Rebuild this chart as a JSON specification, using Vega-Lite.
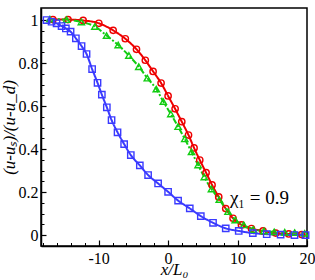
{
  "$schema": "https://vega.github.io/schema/vega-lite/v6.json",
  "width": 266,
  "height": 238,
  "autosize": {"type": "none"},
  "padding": {"left": 41, "top": 8, "right": 8, "bottom": 34},
  "background": "white",
  "config": {
    "view": {"stroke": "black", "strokeWidth": 1.5},
    "font": "Liberation Serif",
    "axis": {"grid": false, "domainColor": "black", "domainWidth": 1.5, "tickColor": "black", "tickWidth": 1.2, "labelColor": "black", "titleColor": "black", "labelFont": "Liberation Serif", "titleFont": "Liberation Serif", "labelFontSize": 16, "titleFontSize": 17, "titleFontStyle": "italic", "titleFontWeight": "normal"}
  },
  "datasets": {
    "pts": [
      {"s": "red", "x": -16.59, "y": 1.002}, {"s": "red", "x": -14.41, "y": 1.002}, {"s": "red", "x": -12.23, "y": 0.998}, {"s": "red", "x": -9.97, "y": 0.985}, {"s": "red", "x": -7.91, "y": 0.952}, {"s": "red", "x": -6.16, "y": 0.913}, {"s": "red", "x": -4.55, "y": 0.864}, {"s": "red", "x": -3.28, "y": 0.813}, {"s": "red", "x": -2.16, "y": 0.761}, {"s": "red", "x": -1.01, "y": 0.707}, {"s": "red", "x": 0, "y": 0.647}, {"s": "red", "x": 1.01, "y": 0.587}, {"s": "red", "x": 1.97, "y": 0.527}, {"s": "red", "x": 2.94, "y": 0.465}, {"s": "red", "x": 3.74, "y": 0.405}, {"s": "red", "x": 4.56, "y": 0.349}, {"s": "red", "x": 5.47, "y": 0.29}, {"s": "red", "x": 6.33, "y": 0.233}, {"s": "red", "x": 7.29, "y": 0.177}, {"s": "red", "x": 8.3, "y": 0.123}, {"s": "red", "x": 9.35, "y": 0.078}, {"s": "red", "x": 10.56, "y": 0.047}, {"s": "red", "x": 12.0, "y": 0.03}, {"s": "red", "x": 13.67, "y": 0.019}, {"s": "red", "x": 15.5, "y": 0.009}, {"s": "red", "x": 17.37, "y": 0.005}, {"s": "red", "x": 19.24, "y": 0.002},
      {"s": "green", "x": -17.02, "y": 1.004}, {"s": "green", "x": -14.62, "y": 1.002}, {"s": "green", "x": -12.49, "y": 0.991}, {"s": "green", "x": -10.55, "y": 0.97}, {"s": "green", "x": -8.86, "y": 0.928}, {"s": "green", "x": -7.19, "y": 0.884}, {"s": "green", "x": -5.65, "y": 0.835}, {"s": "green", "x": -4.22, "y": 0.783}, {"s": "green", "x": -2.99, "y": 0.73}, {"s": "green", "x": -1.7, "y": 0.679}, {"s": "green", "x": -0.69, "y": 0.621}, {"s": "green", "x": 0.39, "y": 0.563}, {"s": "green", "x": 1.44, "y": 0.504}, {"s": "green", "x": 2.4, "y": 0.447}, {"s": "green", "x": 3.37, "y": 0.387}, {"s": "green", "x": 4.32, "y": 0.326}, {"s": "green", "x": 5.21, "y": 0.27}, {"s": "green", "x": 6.24, "y": 0.214}, {"s": "green", "x": 7.37, "y": 0.165}, {"s": "green", "x": 8.63, "y": 0.109}, {"s": "green", "x": 9.67, "y": 0.07}, {"s": "green", "x": 10.89, "y": 0.047}, {"s": "green", "x": 12.26, "y": 0.026}, {"s": "green", "x": 13.81, "y": 0.019}, {"s": "green", "x": 15.28, "y": 0.015}, {"s": "green", "x": 16.79, "y": 0.013}, {"s": "green", "x": 18.23, "y": 0.011}, {"s": "green", "x": 19.67, "y": 0.008},
      {"s": "blue", "x": -17.5, "y": 1.0}, {"s": "blue", "x": -16.78, "y": 0.992}, {"s": "blue", "x": -16.06, "y": 0.985}, {"s": "blue", "x": -15.34, "y": 0.972}, {"s": "blue", "x": -14.72, "y": 0.961}, {"s": "blue", "x": -14.04, "y": 0.946}, {"s": "blue", "x": -13.28, "y": 0.915}, {"s": "blue", "x": -12.46, "y": 0.879}, {"s": "blue", "x": -11.74, "y": 0.842}, {"s": "blue", "x": -10.94, "y": 0.772}, {"s": "blue", "x": -10.16, "y": 0.708}, {"s": "blue", "x": -9.54, "y": 0.653}, {"s": "blue", "x": -8.82, "y": 0.594}, {"s": "blue", "x": -8.14, "y": 0.535}, {"s": "blue", "x": -7.28, "y": 0.478}, {"s": "blue", "x": -6.33, "y": 0.423}, {"s": "blue", "x": -5.37, "y": 0.372}, {"s": "blue", "x": -4.07, "y": 0.324}, {"s": "blue", "x": -2.88, "y": 0.279}, {"s": "blue", "x": -1.44, "y": 0.24}, {"s": "blue", "x": 0, "y": 0.201}, {"s": "blue", "x": 1.44, "y": 0.16}, {"s": "blue", "x": 3.12, "y": 0.124}, {"s": "blue", "x": 4.71, "y": 0.088}, {"s": "blue", "x": 6.47, "y": 0.057}, {"s": "blue", "x": 8.3, "y": 0.031}, {"s": "blue", "x": 10.17, "y": 0.019}, {"s": "blue", "x": 12.2, "y": 0.009}, {"s": "blue", "x": 14.2, "y": 0.004}, {"s": "blue", "x": 16.2, "y": 0.002}, {"s": "blue", "x": 18.2, "y": 0.0}, {"s": "blue", "x": 19.8, "y": 0.0}
    ],
    "note": [{"x": 8.9, "y": 0.172, "label": "χ₁ = 0.9"}]
  },
  "resolve": {"axis": {"x": "independent", "y": "independent"}},
  "layer": [
    {
      "data": {"name": "pts"},
      "mark": {"type": "point", "opacity": 0},
      "encoding": {
        "x": {"field": "x", "type": "quantitative", "scale": {"domain": [-18.3, 20], "nice": false, "zero": false},
              "axis": {"orient": "bottom", "values": [-18, -16, -14, -12, -8, -6, -4, -2, 2, 4, 6, 8, 12, 14, 16, 18], "labels": false, "title": null, "domain": false, "tickSize": -3.5, "tickWidth": 1}},
        "y": {"field": "y", "type": "quantitative", "scale": {"domain": [-0.051, 1.056], "nice": false, "zero": false},
              "axis": {"orient": "left", "values": [0.05, 0.1, 0.15, 0.25, 0.3, 0.35, 0.45, 0.5, 0.55, 0.65, 0.7, 0.75, 0.85, 0.9, 0.95], "labels": false, "title": null, "domain": false, "tickSize": -3, "tickWidth": 1}}
      }
    },
    {
      "data": {"name": "pts"},
      "mark": {"type": "line", "strokeWidth": 2, "interpolate": "monotone", "clip": true},
      "encoding": {
        "x": {"field": "x", "type": "quantitative",
              "axis": {"orient": "bottom", "values": [-10, 0, 10, 20], "title": "x/L₀", "tickSize": -6, "labelPadding": 10, "titlePadding": -5, "labelExpr": "toString(datum.value)", "labelFlush": false}},
        "y": {"field": "y", "type": "quantitative",
              "axis": {"orient": "left", "values": [0, 0.2, 0.4, 0.6, 0.8, 1], "format": ".1~f", "title": "(u-uₛ)/(u-u_d)", "tickSize": -5, "labelPadding": 8, "titlePadding": 0}},
        "color": {"field": "s", "type": "nominal", "scale": {"domain": ["red", "green", "blue"], "range": ["#ee0000", "#11cc11", "#3a3aff"]}, "legend": null},
        "strokeDash": {"field": "s", "type": "nominal", "scale": {"domain": ["red", "green", "blue"], "range": [[1, 0], [6, 2, 2, 2], [1, 0]]}, "legend": null}
      }
    },
    {
      "data": {"name": "pts"},
      "mark": {"type": "point", "filled": false, "strokeWidth": 1.4, "size": 40, "opacity": 1},
      "encoding": {
        "x": {"field": "x", "type": "quantitative", "axis": null},
        "y": {"field": "y", "type": "quantitative", "axis": null},
        "color": {"field": "s", "type": "nominal", "legend": null},
        "shape": {"field": "s", "type": "nominal", "scale": {"domain": ["red", "green", "blue"], "range": ["circle", "triangle-up", "square"]}, "legend": null}
      }
    },
    {
      "data": {"name": "note"},
      "mark": {"type": "text", "align": "left", "baseline": "middle", "fontSize": 19, "font": "Liberation Serif", "color": "black"},
      "encoding": {
        "x": {"field": "x", "type": "quantitative", "axis": null},
        "y": {"field": "y", "type": "quantitative", "axis": null},
        "text": {"field": "label"}
      }
    }
  ]
}
